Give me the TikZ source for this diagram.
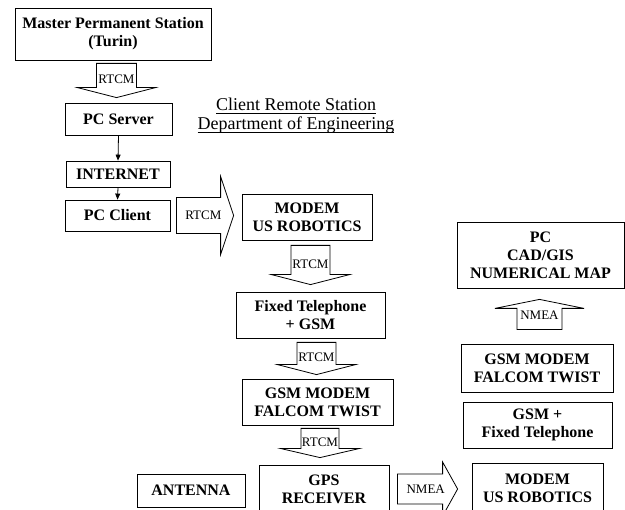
\documentclass[tikz,border=0pt]{standalone}
\usepackage{fontspec}
\setmainfont{Liberation Serif}
\usetikzlibrary{calc,arrows.meta}

\tikzset{
  unit/.style={draw, line width=0.8pt, align=center, inner sep=0pt, font=\bfseries\fontsize{16}{18}\selectfont}, % 機器の枠
  arrowbody/.style={draw, line width=0.8pt, fill=white}, % 太い矢印
  flowlabel/.style={font=\fontsize{13}{15}\selectfont, inner sep=0pt}, % RTCM, NMEA
  link/.style={line width=0.8pt, -{Triangle[length=6pt,width=5pt]}}, % 細い矢印
  heading/.style={align=center, font=\fontsize{18}{19}\selectfont}
}

% 下線 (ディセンダーに関係なく一定の位置)
\newcommand{\lineunder}[1]{\setbox0\hbox{#1}\rlap{\rule[-3pt]{\wd0}{0.8pt}}\box0}

% 太い矢印: 始点, 先端, 軸の半幅, 頭の半幅, 頭の長さ, ラベル
\newcommand{\blockarrow}[6]{%
  \coordinate (hb) at ($(#2)!#5!(#1)$);
  \draw[arrowbody] ($(#1)!#3!90:(#2)$) -- ($(hb)!#3!90:(#2)$) -- ($(hb)!#4!90:(#2)$) -- (#2)
    -- ($(hb)!#4!-90:(#2)$) -- ($(hb)!#3!-90:(#2)$) -- ($(#1)!#3!-90:(#2)$) -- cycle;
  \node[flowlabel] at ($(#1)!0.47!(#2)$) {#6};}

\begin{document}
\begin{tikzpicture}[x=1pt, y=-1pt]
  \useasboundingbox (0,0) rectangle (625,510); % 余白込みの大きさ
  % 左の列
  \node[unit, minimum width=196pt, minimum height=52pt] (master) at (113,34) {Master Permanent Station\\(Turin)};
  \node[unit, minimum width=107pt, minimum height=32pt] (server) at (118.5,119) {PC Server};
  \node[unit, minimum width=104pt, minimum height=26pt] (internet) at (118,174) {INTERNET};
  \node[unit, minimum width=105pt, minimum height=31pt] (client) at (117.5,215.5) {PC Client};
  \node[heading] (caption) at (296,116) {\lineunder{Client Remote Station}\\\lineunder{Department of Engineering}};
  % 中央の列
  \node[unit, minimum width=130pt, minimum height=46pt] (modemA) at (307,217) {MODEM\\US ROBOTICS};
  \node[unit, minimum width=149pt, minimum height=46pt] (fixed) at (310.5,315) {Fixed Telephone\\+ GSM};
  \node[unit, minimum width=151pt, minimum height=46pt] (gsmA) at (317.5,402) {GSM MODEM\\FALCOM TWIST};
  \node[unit, minimum width=130pt, minimum height=48pt] (gps) at (324,489) {GPS\\RECEIVER};
  \node[unit, minimum width=108pt, minimum height=33pt] (antenna) at (191,490.5) {ANTENNA};
  % 右の列
  \node[unit, minimum width=167pt, minimum height=66pt] (pc) at (540.5,255) {PC\\CAD/GIS\\NUMERICAL MAP};
  \node[unit, minimum width=152pt, minimum height=48pt] (gsmB) at (537,368) {GSM MODEM\\FALCOM TWIST};
  \node[unit, minimum width=149pt, minimum height=46pt] (gsmfixed) at (537.5,425) {GSM +\\Fixed Telephone};
  \node[unit, minimum width=131pt, minimum height=50pt] (modemB) at (537.5,488) {MODEM\\US ROBOTICS};

  \draw[link] (server.south) -- (internet.north);
  \draw[link] (internet.south) -- (client.north);

  % 太い矢印の始点と先端
  \coordinate (r1s) at ($(server.north |- master.south)+(-2,3)$);
  \coordinate (r1t) at ($(server.north)+(-2,-5)$);
  \coordinate (r2s) at ($(client.east)+(6,0)$);
  \coordinate (r2t) at ($(modemA.west |- client.east)+(-8,0)$);
  \coordinate (r3s) at ($(fixed.north |- modemA.south)+(0,5)$);
  \coordinate (r3t) at ($(fixed.north)+(0,-7)$);
  \coordinate (r4s) at ($(gsmA.north |- fixed.south)+(-1,4)$);
  \coordinate (r4t) at ($(gsmA.north)+(-1,-4)$);
  \coordinate (r5s) at ($(gps.north |- gsmA.south)+(-4,3)$);
  \coordinate (r5t) at ($(gps.north)+(-4,-7)$);
  \coordinate (r6s) at ($(gps.east)+(8,0)$);
  \coordinate (r6t) at ($(modemB.west |- gps.east)+(-14,0)$);
  \coordinate (r7s) at ($(pc.south |- gsmB.north)+(-1,-14)$);
  \coordinate (r7t) at ($(pc.south)+(-1,11)$);

  \blockarrow{r1s}{r1t}{20pt}{39pt}{10pt}{RTCM}
  \blockarrow{r2s}{r2t}{18pt}{39pt}{13pt}{RTCM}
  \blockarrow{r3s}{r3t}{19.5pt}{39pt}{10pt}{RTCM}
  \blockarrow{r4s}{r4t}{19.5pt}{39pt}{10pt}{RTCM}
  \blockarrow{r5s}{r5t}{19pt}{39pt}{9pt}{RTCM}
  \blockarrow{r6s}{r6t}{15pt}{27pt}{15pt}{NMEA}
  \blockarrow{r7s}{r7t}{22.5pt}{44.5pt}{9pt}{NMEA}
\end{tikzpicture}
\end{document}
